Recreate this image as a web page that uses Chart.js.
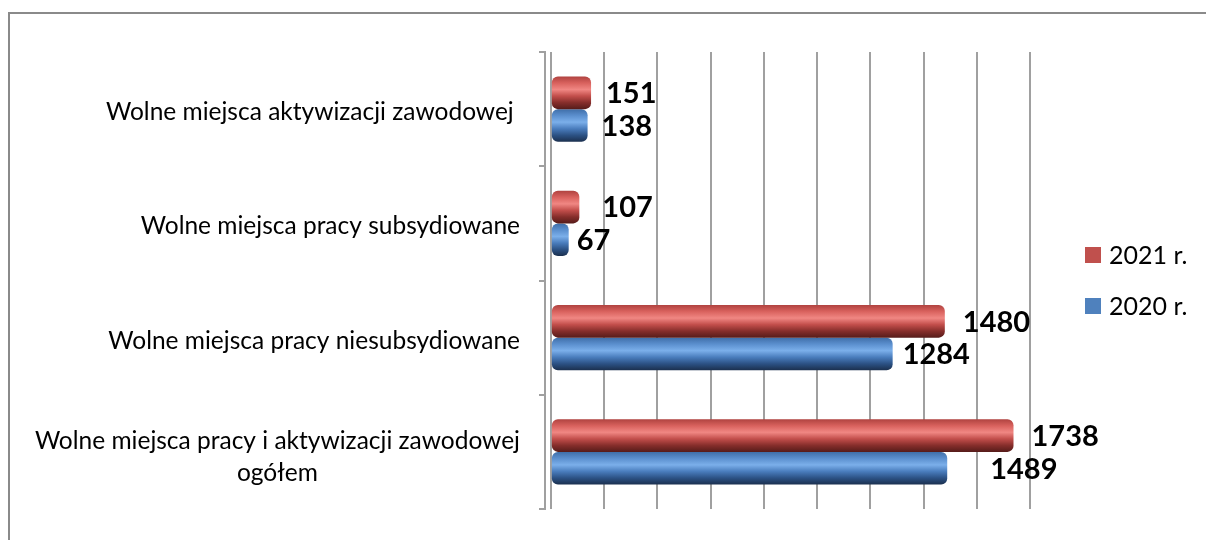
<!DOCTYPE html>
<html>
<head>
<meta charset="utf-8">
<script src="https://cdn.jsdelivr.net/npm/chart.js@4.4.1/dist/chart.umd.min.js"></script>
<style>
  html, body { margin: 0; padding: 0; background: #fff; }
  #wrap { position: relative; width: 1206px; height: 540px; overflow: hidden; }
  #frame { position: absolute; left: 8px; top: 12px; width: 1300px; height: 600px;
           border-left: 2px solid #8a8a8a; border-top: 2px solid #8a8a8a; }
  canvas { position: absolute; left: 0; top: 0; }
</style>
</head>
<body>
<div id="wrap">
  <div id="frame"></div>
  <canvas id="chart" width="1206" height="540"></canvas>
</div>
<script>
// categories top to bottom
const categories = [
  'Wolne miejsca aktywizacji zawodowej ',
  'Wolne miejsca pracy subsydiowane',
  'Wolne miejsca pracy niesubsydiowane',
  ['Wolne miejsca pracy i aktywizacji zawodowej', 'ogółem']
];
const values2021 = [151, 107, 1480, 1738];
const values2020 = [138, 67, 1284, 1489];
const seriesNames = ['2021 r.', '2020 r.'];
const gridValues = [0, 200, 400, 600, 800, 1000, 1200, 1400, 1600, 1800];

const RED = '#c0504d';
const BLUE = '#4f81bd';
// cylinder shading stops (top -> bottom)
const shades = {
  red: ['#b04340', '#d9625e', '#f08783', '#c24e4b', '#862e2b', '#561c1a'],
  blue: ['#3f6ea8', '#5b8fce', '#7bafea', '#4a7dbd', '#2c5285', '#1b304f']
};
// small nudges for the value labels, like the 3D layout of the original
const labelShift = [[15, 23, 18, 18], [14, 8, 10, 43]];

const cylinderFill = {
  id: 'cylinderFill',
  beforeDatasetsDraw(chart) {
    const ctx = chart.ctx;
    chart.data.datasets.forEach((ds, i) => {
      const stops = i === 0 ? shades.red : shades.blue;
      chart.getDatasetMeta(i).data.forEach(bar => {
        const top = bar.y - bar.height / 2;
        const g = ctx.createLinearGradient(0, top, 0, top + bar.height);
        stops.forEach((c, k) => g.addColorStop(k / (stops.length - 1), c));
        bar.options = Object.assign({}, bar.options, { backgroundColor: g });
      });
    });
  }
};

const valueLabels = {
  id: 'valueLabels',
  afterDatasetsDraw(chart) {
    const ctx = chart.ctx;
    ctx.save();
    ctx.font = 'bold 29px Lato';
    ctx.fillStyle = '#000';
    ctx.textAlign = 'left';
    ctx.textBaseline = 'middle';
    chart.data.datasets.forEach((ds, i) => {
      chart.getDatasetMeta(i).data.forEach((bar, j) => {
        ctx.fillText(String(ds.data[j]), bar.x + labelShift[i][j], bar.y + 1);
      });
    });
    ctx.restore();
  }
};

const categoryLabels = {
  id: 'categoryLabels',
  afterDraw(chart) {
    const ctx = chart.ctx;
    const y = chart.scales.y;
    ctx.save();
    ctx.font = '24.5px Lato';
    ctx.fillStyle = '#000';
    ctx.textAlign = 'center';
    ctx.textBaseline = 'middle';
    const right = 520, lh = 32;
    chart.data.labels.forEach((lab, j) => {
      const lines = Array.isArray(lab) ? lab : [lab];
      const w = Math.max(...lines.map(l => ctx.measureText(l).width));
      const cy = y.getPixelForValue(j) + (lines.length > 1 ? 5 : 3);
      lines.forEach((l, k) => {
        ctx.fillText(l, right - w / 2, cy + (k - (lines.length - 1) / 2) * lh);
      });
    });
    ctx.restore();
  }
};

const sideLegend = {
  id: 'sideLegend',
  afterDraw(chart) {
    const ctx = chart.ctx;
    ctx.save();
    ctx.font = '25px Lato';
    ctx.textBaseline = 'middle';
    ctx.textAlign = 'left';
    const rows = [255, 306];
    chart.data.datasets.forEach((ds, i) => {
      ctx.fillStyle = ds.legendColor;
      ctx.fillRect(1085, rows[i] - 8, 16, 16);
      ctx.fillStyle = '#000';
      ctx.fillText(ds.label, 1109, rows[i] + 1);
    });
    ctx.restore();
  }
};

function draw() {
  new Chart(document.getElementById('chart'), {
    type: 'bar',
    data: {
      labels: categories,
      datasets: [
        { label: seriesNames[0], data: values2021, backgroundColor: RED, legendColor: RED },
        { label: seriesNames[1], data: values2020, backgroundColor: BLUE, legendColor: BLUE }
      ]
    },
    options: {
      responsive: false,
      animation: false,
      indexAxis: 'y',
      layout: { padding: { left: 539, right: 176, top: 52, bottom: 31 } },
      datasets: {
        bar: {
          categoryPercentage: 0.57,
          barPercentage: 1,
          borderRadius: 6,
          borderSkipped: false
        }
      },
      plugins: {
        legend: { display: false },
        tooltip: { enabled: false }
      },
      scales: {
        x: {
          min: -22,
          max: 1800,
          afterBuildTicks: s => { s.ticks = gridValues.map(v => ({ value: v })); },
          ticks: { display: false },
          grid: { color: '#a0a0a0', lineWidth: 2, drawTicks: false },
          border: { display: false }
        },
        y: {
          ticks: { display: false },
          grid: { offset: true, drawOnChartArea: false, tickLength: 6, color: '#a0a0a0', lineWidth: 2 },
          border: { color: '#a0a0a0', width: 2 }
        }
      }
    },
    plugins: [cylinderFill, valueLabels, categoryLabels, sideLegend]
  });
}

document.fonts.load('bold 29px Lato').then(draw, draw);
</script>
</body>
</html>
